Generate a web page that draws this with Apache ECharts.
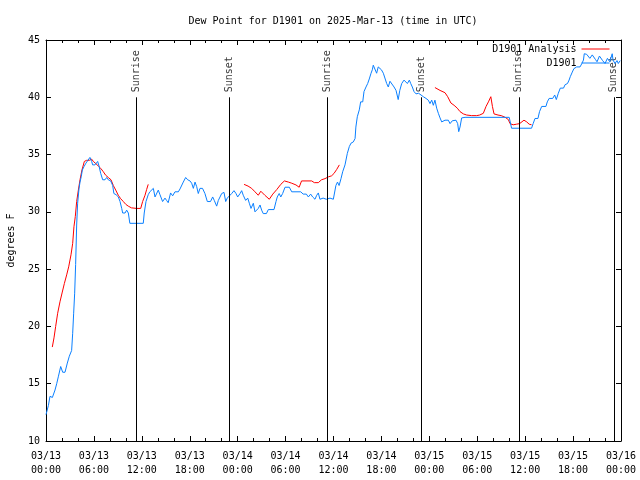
<!DOCTYPE html>
<html><head><meta charset="utf-8">
<script src="https://cdn.jsdelivr.net/npm/echarts@6/dist/echarts.min.js"></script>
<style>html,body{margin:0;padding:0;background:#fff}#c{width:640px;height:480px}</style>
</head><body><div id="c"></div>
<script>
const titleText = 'Dew Point for D1901 on 2025-Mar-13 (time in UTC)';
const xTickLabels = ['03/13\n00:00','03/13\n06:00','03/13\n12:00','03/13\n18:00','03/14\n00:00','03/14\n06:00','03/14\n12:00','03/14\n18:00','03/15\n00:00','03/15\n06:00','03/15\n12:00','03/15\n18:00','03/16\n00:00'];
// hours since 03/13 00:00 UTC
const sunTimes = [11.3, 23.0, 35.25, 47.0, 59.2, 71.1];
const sunLabels = ['Sunrise','Sunset','Sunrise','Sunset','Sunrise','Sunset'];

const obsTimes = [0.0,0.3,0.5,0.8,1.13,1.34,1.54,1.84,2.09,2.38,2.67,2.92,3.21,3.34,3.46,3.59,3.71,3.84,3.96,4.13,4.26,4.42,4.55,4.76,5.0,5.2,5.5,5.72,5.84,6.13,6.34,6.47,6.64,6.85,7.1,7.39,7.6,7.8,8.1,8.35,8.5,8.77,9.06,9.27,9.48,9.6,9.9,10.1,10.31,10.5,12.18,12.3,12.52,12.8,13.0,13.44,13.65,14.06,14.27,14.6,14.9,15.1,15.3,15.6,15.86,16.15,16.57,16.78,17.19,17.49,17.74,18.03,18.24,18.45,18.66,18.87,19.07,19.28,19.6,19.9,20.2,20.6,20.87,21.07,21.37,21.58,21.79,22.0,22.29,22.5,22.7,22.95,23.25,23.54,23.79,24.0,24.3,24.5,24.7,25.0,25.26,25.46,25.67,25.96,26.17,26.38,26.58,26.8,27.0,27.2,27.6,27.84,28.55,28.8,28.96,29.2,29.4,29.63,29.93,30.47,30.77,31.9,32.2,32.6,32.85,33.14,33.39,33.68,33.9,34.1,34.3,34.7,35.1,35.56,35.98,36.3,36.5,36.7,36.94,37.15,37.44,37.73,37.98,38.2,38.48,38.7,38.8,38.98,39.23,39.4,39.66,39.82,40.07,40.28,40.48,40.7,40.86,40.98,41.2,41.4,41.6,41.82,42.0,42.24,42.45,42.66,42.86,43.07,43.28,43.58,43.83,44.1,44.3,44.54,44.83,45.08,45.25,45.5,45.67,45.87,46.08,46.33,46.66,46.96,47.25,47.58,47.87,48.08,48.3,48.5,48.7,48.92,49.13,49.34,49.55,49.75,49.96,50.17,50.38,50.59,50.88,51.09,51.34,51.55,51.68,51.84,52.05,52.26,52.47,58.0,58.3,60.8,61.0,61.23,61.6,61.8,62.07,62.6,62.77,63.0,63.45,63.7,63.9,64.15,64.4,64.8,65.0,65.3,65.5,65.65,65.9,66.1,66.45,66.87,67.1,67.3,67.4,67.7,68.1,68.4,68.8,69.0,69.3,69.7,70.0,70.3,70.6,70.9,71.0,71.25,71.5,71.66,71.9];
const obsValues = [12.3,13.1,13.9,13.8,14.45,15.0,15.6,16.5,16.0,16.0,16.8,17.4,17.9,19.4,21.1,22.9,25.4,28.85,30.75,32.0,32.6,33.1,33.65,33.95,34.25,34.4,34.75,34.4,34.1,34.1,34.1,34.4,34.0,33.35,32.8,32.8,33.0,32.8,32.7,32.3,31.6,31.5,31.3,30.9,30.3,29.9,29.9,30.15,29.9,29.0,29.0,29.9,30.9,31.5,31.75,32.05,31.3,31.9,31.5,30.9,31.2,31.0,30.8,31.65,31.4,31.75,31.75,32.0,32.6,33.0,32.8,32.7,32.5,32.05,32.6,32.2,31.6,32.05,32.05,31.6,30.9,30.9,31.3,31.0,30.5,31.0,31.3,31.6,31.7,30.9,31.2,31.3,31.6,31.85,31.6,31.3,31.6,31.85,31.45,31.0,31.2,30.75,30.3,30.75,30.0,29.85,30.3,30.6,30.15,29.85,29.85,30.2,30.2,30.9,31.3,31.6,31.3,31.6,32.15,32.15,31.75,31.75,31.55,31.55,31.3,31.55,31.3,31.1,31.45,31.65,31.1,31.2,31.1,31.2,31.1,32.3,32.6,32.3,32.9,33.5,34.1,35.1,35.7,36.0,36.1,36.4,37.4,38.3,38.9,39.6,39.6,40.5,40.9,41.2,41.6,42.1,42.4,42.8,42.8,42.1,42.65,42.8,42.4,42.1,42.0,41.2,40.9,41.4,41.4,40.9,40.6,39.8,40.6,41.2,41.5,41.5,41.2,41.5,41.2,40.9,40.5,40.3,40.35,40.2,40.05,39.9,39.75,39.45,39.75,39.3,39.75,39.05,38.6,38.2,37.85,37.7,38.0,37.85,38.0,37.7,37.95,37.95,38.0,37.7,37.0,37.4,38.2,38.15,38.25,38.25,37.3,37.3,37.7,38.15,38.15,38.75,39.2,39.2,39.6,39.9,39.9,40.2,39.8,40.35,40.8,40.8,41.1,41.2,41.5,41.8,42.2,42.5,42.65,42.65,42.95,43.25,43.8,43.75,43.4,43.7,43.3,43.1,43.6,43.2,42.95,43.4,43.1,43.8,43.25,42.95,43.2,42.95,43.2];

const anaTimes1 = [0.79,1.0,1.21,1.46,1.75,2.04,2.3,2.59,2.84,3.13,3.34,3.5,3.67,3.84,4.05,4.26,4.5,4.8,5.09,5.42,5.72,5.93,6.26,6.55,6.85,7.18,7.47,7.8,8.14,8.43,8.73,9.05,9.35,9.68,10.0,10.3,10.7,11.35,11.86,12.1,12.4,12.6,12.8];
const anaValues1 = [18.2,19.0,20.0,21.15,22.15,23.0,23.75,24.5,25.2,26.25,27.25,28.7,29.6,30.9,31.9,32.8,33.65,34.4,34.5,34.5,34.6,34.4,34.2,34.0,33.8,33.5,33.2,33.0,32.8,32.3,31.9,31.45,31.15,30.9,30.65,30.5,30.35,30.3,30.3,30.9,31.45,31.95,32.4];
const anaTimes2 = [24.8,25.3,25.75,26.17,26.58,26.9,27.4,27.96,28.4,28.9,29.4,29.85,30.35,30.77,31.3,31.7,32.0,33.27,33.6,34.1,34.5,34.94,35.35,35.77,36.06,36.4,36.73];
const anaValues2 = [32.4,32.25,32.05,31.75,31.45,31.8,31.45,31.1,31.55,31.95,32.4,32.7,32.6,32.5,32.35,32.15,32.7,32.7,32.55,32.55,32.8,32.9,33.05,33.15,33.35,33.7,34.1];
const anaTimes3 = [48.7,49.34,49.96,50.3,50.7,51.1,51.5,51.84,52.26,52.68,53.3,53.93,54.3,54.76,55.1,55.4,55.7,55.9,56.1,56.6,57.0,57.5,57.9,58.1,58.5,58.9,59.3,59.55,59.85,60.2,60.5,60.8];
const anaValues3 = [40.85,40.6,40.4,40.05,39.5,39.3,39.05,38.75,38.55,38.45,38.4,38.4,38.45,38.6,39.2,39.6,40.05,39.2,38.55,38.45,38.4,38.25,38.05,37.7,37.6,37.65,37.7,37.85,38.0,37.85,37.65,37.6];

const FONT = 'DejaVu Sans Mono';
const zip = (a, b) => a.map((t, i) => [t, b[i]]);
const anaData = zip(anaTimes1, anaValues1).concat([[13, null]], zip(anaTimes2, anaValues2), [[40, null]], zip(anaTimes3, anaValues3));
const obsData = zip(obsTimes, obsValues);

const txt = {fontFamily: FONT, fontSize: 10, color: '#000'};
const axisCommon = {
  axisLine: {show: true, onZero: false, lineStyle: {color: '#000', width: 1}},
  axisTick: {show: true, inside: true, length: 5, lineStyle: {color: '#000'}},
  splitLine: {show: false}
};

const chart = echarts.init(document.getElementById('c'), null, {renderer: 'canvas'});
chart.setOption({
  animation: false,
  backgroundColor: '#fff',
  title: {text: titleText, left: 333, top: 16, padding: 0, textAlign: 'center',
    textStyle: Object.assign({fontWeight: 'normal'}, txt)},
  grid: {left: 46, right: 19, top: 40, bottom: 39, containLabel: false, outerBoundsMode: 'none'},
  legend: {
    data: ['D1901 Analysis', 'D1901'], orient: 'vertical', right: 30, top: 44, align: 'right',
    itemWidth: 28, itemHeight: 10, itemGap: 4, padding: 0, selectedMode: false, textStyle: txt,
    itemStyle: {opacity: 0, borderWidth: 0},
    lineStyle: {width: 1}
  },
  xAxis: [
    Object.assign({type: 'value', min: 0, max: 72, interval: 6, position: 'bottom',
      minorTick: {show: true, splitNumber: 3, length: 3, lineStyle: {color: '#000'}},
      axisLabel: Object.assign({margin: 8, lineHeight: 14, formatter: v => xTickLabels[Math.round(v / 6)]}, txt)}, axisCommon),
    Object.assign({type: 'value', min: 0, max: 72, interval: 6, position: 'top',
      minorTick: {show: true, splitNumber: 3, length: 3, lineStyle: {color: '#000'}},
      axisLabel: {show: false}}, axisCommon)
  ],
  yAxis: [
    Object.assign({type: 'value', min: 10, max: 45, interval: 5, position: 'left',
      name: 'degrees F', nameLocation: 'middle', nameGap: 30, nameTextStyle: txt,
      axisLabel: Object.assign({margin: 6}, txt)}, axisCommon),
    Object.assign({type: 'value', min: 10, max: 45, interval: 5, position: 'right',
      axisLabel: {show: false}}, axisCommon)
  ],
  series: [
    {name: 'D1901 Analysis', type: 'line', data: anaData, symbol: 'none', connectNulls: false,
      lineStyle: {color: '#ff0000', width: 1}, itemStyle: {color: '#ff0000'}, z: 3},
    {name: 'D1901', type: 'line', data: obsData, symbol: 'none',
      lineStyle: {color: '#0a80ff', width: 1}, itemStyle: {color: '#0a80ff'}, z: 4},
    {name: 'sun', type: 'scatter', data: sunTimes.map(t => [t, 40]), symbolSize: 0, silent: true, z: 2,
      label: {show: true, position: 'top', distance: 5, rotate: 90, align: 'left', verticalAlign: 'middle',
        formatter: p => sunLabels[p.dataIndex], fontFamily: FONT, fontSize: 10, color: '#000'},
      markLine: {symbol: 'none', silent: true, animation: false, label: {show: false},
        lineStyle: {color: '#000', width: 1, type: 'solid'},
        data: sunTimes.map(t => [{coord: [t, 10]}, {coord: [t, 40]}])}}
  ]
});
</script></body></html>
